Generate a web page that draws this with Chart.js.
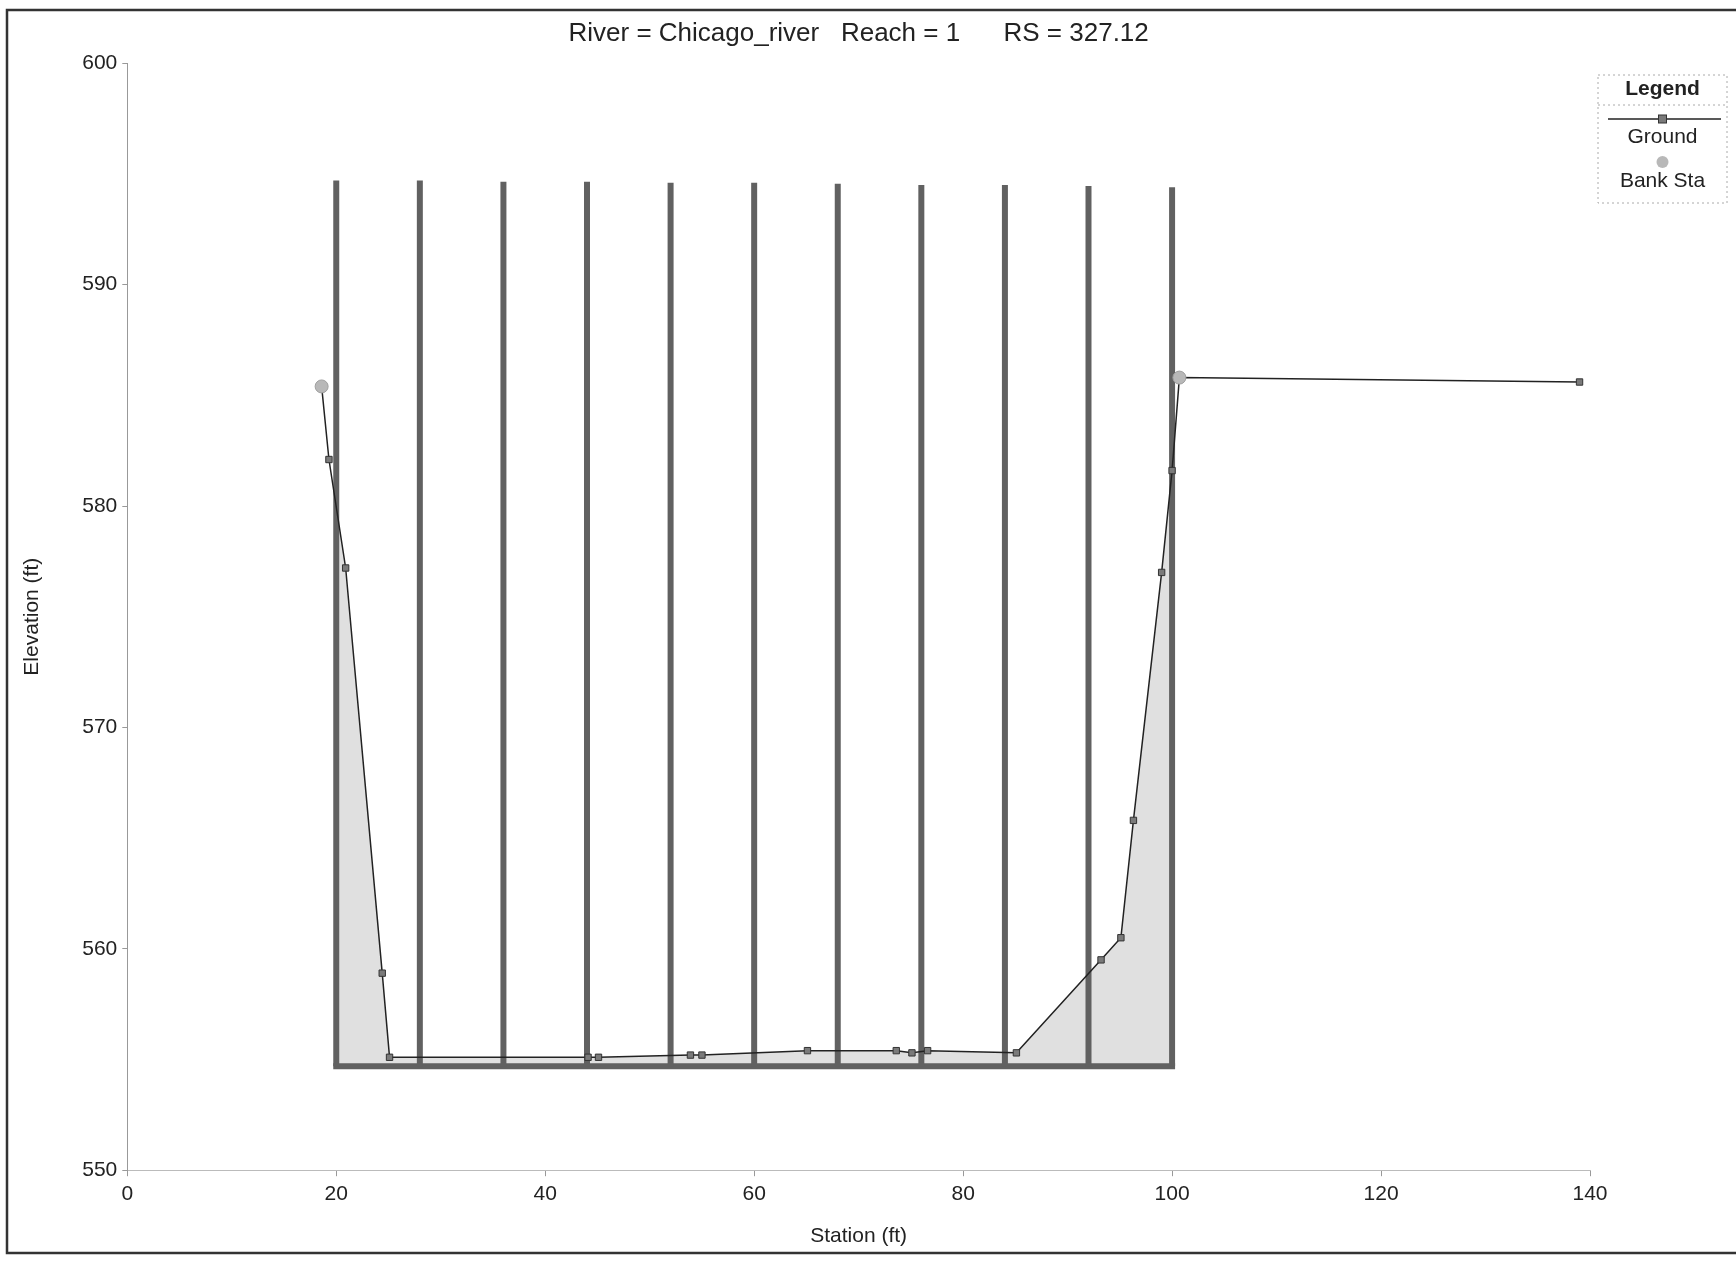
<!DOCTYPE html>
<html>
<head>
<meta charset="utf-8">
<script src="https://cdn.jsdelivr.net/npm/chart.js@4.4.1/dist/chart.umd.min.js"></script>
<style>
  html, body { margin: 0; padding: 0; background: #fff; }
</style>
</head>
<body>
<canvas id="xs" width="1736" height="1262"></canvas>
<script>
// ground points (station ft, elevation ft)
const stations   = [18.6, 19.3, 20.9, 24.4, 25.1, 44.1, 45.1, 53.9, 55.0, 65.1, 73.6, 75.1, 76.6, 85.1, 93.2, 95.1, 96.3, 99.0, 100.0, 100.7, 139.0];
const elevations = [585.4, 582.1, 577.2, 558.9, 555.1, 555.1, 555.1, 555.2, 555.2, 555.4, 555.4, 555.3, 555.4, 555.3, 559.5, 560.5, 565.8, 577.0, 581.6, 585.8, 585.6];

const bankStations   = [18.6, 100.7];
const bankElevations = [585.4, 585.8];

// piers / deck outline
const pierStations = [20, 28, 36, 44, 52, 60, 68, 76, 84, 92, 100];
const pierTops     = [594.7, 594.7, 594.65, 594.65, 594.6, 594.6, 594.55, 594.5, 594.5, 594.45, 594.4];
const lowChord = 554.7;

const xTicks = [0, 20, 40, 60, 80, 100, 120, 140];
const yTicks = [550, 560, 570, 580, 590, 600];

const FONT = '"Liberation Sans", Arial, sans-serif';
Chart.defaults.font.family = FONT;
Chart.defaults.color = '#222';

const ground = stations.map((x, i) => ({x, y: elevations[i]}));

const datasets = [
    {
        label: 'Ground',
        data: ground,
        showLine: true,
        borderColor: '#222',
        borderWidth: 1.5,
        pointStyle: 'rect',
        pointRadius: 4.5,
        pointBackgroundColor: '#7a7a7a',
        pointBorderColor: '#333',
        pointBorderWidth: 1,
        order: 1
    },
    {
        label: 'Bank Sta',
        data: bankStations.map((x, i) => ({x, y: bankElevations[i]})),
        showLine: false,
        pointRadius: 6.5,
        pointBackgroundColor: '#b8b8b8',
        pointBorderColor: '#a0a0a0',
        pointBorderWidth: 1,
        order: 0
    },
    {
        label: 'fill',
        data: ground,
        showLine: true,
        borderWidth: 0,
        pointRadius: 0,
        fill: {value: lowChord},
        backgroundColor: '#e0e0e0',
        order: 10
    }
];
const FILL_INDEX = 2;

pierStations.forEach((s, i) => {
    datasets.push({
        label: 'pier',
        data: [{x: s, y: pierTops[i]}, {x: s, y: lowChord}],
        showLine: true,
        borderColor: '#616161',
        borderWidth: 6,
        pointRadius: 0,
        order: 5
    });
});
datasets.push({
    label: 'low chord',
    data: [{x: pierStations[0], y: lowChord}, {x: pierStations[pierStations.length - 1], y: lowChord}],
    showLine: true,
    borderColor: '#616161',
    borderWidth: 6,
    borderCapStyle: 'square',
    pointRadius: 0,
    order: 5
});

// clip the ground shading to the span between the outer piers
const fillClip = {
    id: 'fillClip',
    beforeDatasetsDraw(chart) {
        const {ctx, chartArea, scales: {x}} = chart;
        const l = x.getPixelForValue(pierStations[0]);
        const r = x.getPixelForValue(pierStations[pierStations.length - 1]);
        ctx.save();
        ctx.beginPath();
        ctx.rect(l, chartArea.top, r - l, chartArea.bottom - chartArea.top);
        ctx.clip();
    },
    afterDatasetDraw(chart, args) {
        if (args.index === FILL_INDEX) chart.ctx.restore();
    }
};

const frame = {
    id: 'frame',
    beforeDraw(chart) {
        const {ctx} = chart;
        ctx.save();
        ctx.fillStyle = '#fff';
        ctx.fillRect(0, 0, chart.width, chart.height);
        ctx.restore();
    },
    afterDraw(chart) {
        const {ctx} = chart;
        ctx.save();
        ctx.strokeStyle = '#333';
        ctx.lineWidth = 2.5;
        ctx.strokeRect(7, 10, chart.width + 10, chart.height - 19);
        ctx.restore();
    }
};

const legendBox = {
    id: 'legendBox',
    afterDraw(chart) {
        const {ctx} = chart;
        const g = chart.data.datasets[0];
        const b = chart.data.datasets[1];
        const left = chart.width - 138, right = chart.width - 9;
        const top = 75, bottom = 203;
        const cx = (left + right) / 2;
        ctx.save();
        ctx.strokeStyle = '#aaa';
        ctx.lineWidth = 1;
        ctx.setLineDash([2, 3]);
        ctx.strokeRect(left, top, right - left, bottom - top);
        ctx.beginPath();
        ctx.moveTo(left, top + 30);
        ctx.lineTo(right, top + 30);
        ctx.stroke();
        ctx.setLineDash([]);

        ctx.textAlign = 'center';
        ctx.textBaseline = 'middle';
        ctx.fillStyle = '#222';
        ctx.font = 'bold 21px ' + FONT;
        ctx.fillText('Legend', cx, top + 14);

        ctx.strokeStyle = g.borderColor;
        ctx.lineWidth = 1.5;
        ctx.beginPath();
        ctx.moveTo(left + 10, top + 44);
        ctx.lineTo(right - 6, top + 44);
        ctx.stroke();
        ctx.fillStyle = g.pointBackgroundColor;
        ctx.strokeStyle = g.pointBorderColor;
        ctx.lineWidth = 1;
        ctx.fillRect(cx - 4, top + 40, 8, 8);
        ctx.strokeRect(cx - 4, top + 40, 8, 8);

        ctx.fillStyle = '#222';
        ctx.font = '21px ' + FONT;
        ctx.fillText(g.label, cx, top + 62);

        ctx.fillStyle = b.pointBackgroundColor;
        ctx.beginPath();
        ctx.arc(cx, top + 87, 6, 0, Math.PI * 2);
        ctx.fill();

        ctx.fillStyle = '#222';
        ctx.fillText(b.label, cx, top + 106);
        ctx.restore();
    }
};

new Chart(document.getElementById('xs'), {
    type: 'scatter',
    data: {datasets},
    plugins: [frame, fillClip, legendBox],
    options: {
        responsive: false,
        animation: false,
        devicePixelRatio: 1,
        layout: {padding: {left: 14, right: 146, top: 0, bottom: 8}},
        plugins: {
            legend: {display: false},
            tooltip: {enabled: false},
            title: {
                display: true,
                fullSize: false,
                text: 'River = Chicago_river   Reach = 1      RS = 327.12',
                font: {size: 26, weight: 'normal'},
                color: '#222',
                padding: {top: 18, bottom: 14}
            }
        },
        scales: {
            x: {
                type: 'linear',
                min: 0,
                max: 140,
                afterBuildTicks: s => { s.ticks = xTicks.map(value => ({value})); },
                afterFit: s => { s.height = 83.8; },
                grid: {drawOnChartArea: false, drawTicks: true, tickLength: 6, color: '#999'},
                border: {display: true, color: '#bbb', dash: [1, 4], width: 1},
                ticks: {padding: 5, color: '#222', font: {size: 21}},
                title: {display: true, text: 'Station (ft)', font: {size: 21}, color: '#222', padding: {bottom: 5}}
            },
            y: {
                type: 'linear',
                min: 550,
                max: 600,
                afterBuildTicks: s => { s.ticks = yTicks.map(value => ({value})); },
                afterFit: s => { s.width = 113.3; },
                grid: {drawOnChartArea: false, drawTicks: true, tickLength: 5, color: '#999'},
                border: {display: true, color: '#999', dash: [1, 3], width: 1},
                ticks: {padding: 5, color: '#222', font: {size: 21}},
                title: {display: true, text: 'Elevation (ft)', font: {size: 21}, color: '#222', padding: {top: 6}}
            }
        }
    }
});
</script>
</body>
</html>
